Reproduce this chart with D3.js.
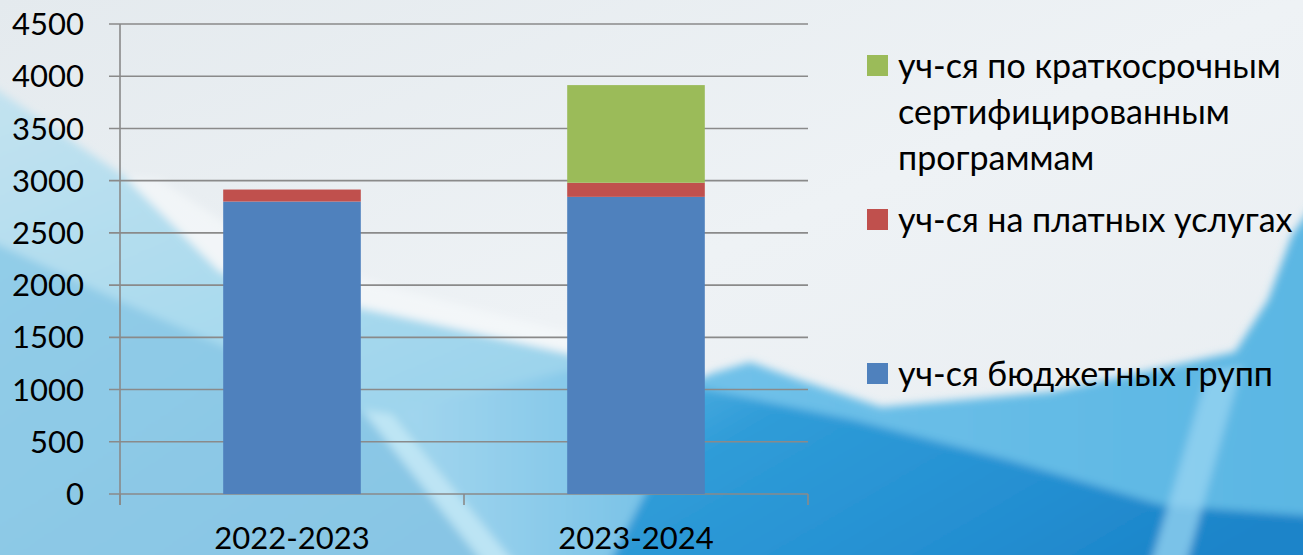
<!DOCTYPE html>
<html>
<head>
<meta charset="utf-8">
<script src="https://cdn.jsdelivr.net/npm/d3@7"></script>
<style>
  html, body { margin: 0; padding: 0; overflow: hidden; background: #e9eef2; }
  svg { display: block; }
  text { font-family: Lato, "Noto Sans", sans-serif; fill: #000; }
</style>
</head>
<body>
<svg id="chart" width="1303" height="555"></svg>
<script>
// school years on the x axis
const YEARS = ["2022-2023", "2023-2024"];
// stacked series, bottom to top
const BUDGET = [2800, 2845];   // уч-ся бюджетных групп
const PAID   = [115, 135];     // уч-ся на платных услугах
const SHORT  = [0, 935];       // уч-ся по краткосрочным сертифицированным программам
const Y_TICKS = [0, 500, 1000, 1500, 2000, 2500, 3000, 3500, 4000, 4500];

const SERIES = [
  { key: "budget", values: BUDGET, color: "#4f81bd", label: ["уч-ся бюджетных групп"] },
  { key: "paid",   values: PAID,   color: "#c0504d", label: ["уч-ся на платных услугах"] },
  { key: "short",  values: SHORT,  color: "#9bbb59", label: ["уч-ся по краткосрочным", "сертифицированным", "программам"] }
];

const W = 1303, H = 555;
const PLOT = { left: 120, right: 808, top: 24, bottom: 494 };
const svg = d3.select("#chart");

// ---- slide background (soft blue waves) ----
const defs = svg.append("defs");
defs.append("filter").attr("id", "soft").attr("x", "-10%").attr("y", "-10%")
    .attr("width", "120%").attr("height", "120%")
  .append("feGaussianBlur").attr("stdDeviation", 4);
function grad(id, x1, y1, x2, y2, stops){
  const g = defs.append("linearGradient").attr("id", id)
      .attr("x1", x1).attr("y1", y1).attr("x2", x2).attr("y2", y2);
  stops.forEach(s => g.append("stop").attr("offset", s[0]).attr("stop-color", s[1]));
}
grad("bgTop", 0, 0, 1, 1, [[0, "#e4eaee"], [0.5, "#eef2f5"], [1, "#e8edf1"]]);
grad("leftBlue", 0, 0, 0.7, 1, [[0, "#c4e3f0"], [0.45, "#a9daee"], [1, "#8ccbe9"]]);
grad("leftDeep", 0, 0, 1, 1, [[0, "#92cde8"], [1, "#86c4e4"]]);
grad("lowMid", 0, 0, 1, 0, [[0, "#a3d6ee"], [1, "#5cb5e2"]]);
grad("rightMid", 0, 0, 1, 0, [[0, "#74c3ea"], [1, "#5ab6e3"]]);
grad("rightDeep", 0, 0, 1, 0.5, [[0, "#5ab4e2"], [0.25, "#2f9cd8"], [0.65, "#2590d2"], [1, "#1b84c9"]]);

const bg = svg.append("g");
bg.append("rect").attr("width", W).attr("height", H).attr("fill", "url(#bgTop)");
const soft = bg.append("g").attr("filter", "url(#soft)");
// light blue wedge on the left, under a white diagonal edge
soft.append("path").attr("fill", "url(#leftBlue)")
    .attr("d", "M-20,78 L125,177 L220,272 L361,308 L570,354 L706,382 L830,400 L830,600 L-20,600 Z");
// bright white edge along that wedge
soft.append("path").attr("fill", "#f7fafc").attr("opacity", 0.6)
    .attr("d", "M125,177 L220,272 L361,308 L570,354 L706,382 L706,370 L560,330 L380,285 L250,240 L160,180 Z");
// deeper blue band lower-left
soft.append("path").attr("fill", "url(#leftDeep)")
    .attr("d", "M-20,236 L120,301 L225,347 L366,414 L523,600 L-20,600 Z");
// lower-middle blue, getting stronger to the right
soft.append("path").attr("fill", "url(#lowMid)")
    .attr("d", "M400,410 L570,370 L706,382 L830,400 L830,600 L540,600 Z");
// pale diagonal streak near the x axis
soft.append("path").attr("fill", "#c3e7f6").attr("opacity", 0.85)
    .attr("d", "M362,410 L392,414 L545,600 L512,600 Z");
// blue area below the legend
soft.append("path").attr("fill", "url(#rightMid)")
    .attr("d", "M690,380 L750,362 L800,380 L881,407 L1050,392 L1235,352 L1268,300 L1292,235 L1320,195 L1320,600 L600,600 Z");
// strong blue across the bottom-right
soft.append("path").attr("fill", "url(#rightDeep)")
    .attr("d", "M700,388 L854,420 L1008,460 L1161,505 L1320,517 L1320,600 L590,600 Z");
// pale streak in the right panel
soft.append("path").attr("fill", "#9ad6f1").attr("opacity", 0.75)
    .attr("d", "M1208,372 L1242,366 L1176,600 L1140,600 Z");

// ---- scales ----
const x = d3.scaleBand().domain(YEARS).range([PLOT.left, PLOT.right])
    .paddingInner(0.6).paddingOuter(0.3);
const y = d3.scaleLinear().domain([0, 4500]).range([PLOT.bottom, PLOT.top]);

const rows = YEARS.map((yr, i) => {
  const r = { year: yr };
  SERIES.forEach(s => r[s.key] = s.values[i]);
  return r;
});
const stacked = d3.stack().keys(SERIES.map(s => s.key))(rows);

const plot = svg.append("g");

// gridlines, with the small tick stub left of the axis
plot.selectAll(".grid").data(Y_TICKS).join("line").attr("class", "grid")
    .attr("x1", PLOT.left - 11).attr("x2", PLOT.right)
    .attr("y1", d => y(d)).attr("y2", d => y(d))
    .attr("stroke", "#8a8a8a").attr("stroke-width", 1.6);

// y axis line
plot.append("line").attr("x1", PLOT.left).attr("x2", PLOT.left)
    .attr("y1", PLOT.top).attr("y2", PLOT.bottom + 11)
    .attr("stroke", "#8a8a8a").attr("stroke-width", 1.6);

// x axis category boundary ticks
const bounds = [PLOT.left, ...YEARS.map(d => x(d) - x.step() * 0.3 + x.step())];
plot.selectAll(".xtick").data(bounds).join("line").attr("class", "xtick")
    .attr("x1", d => d).attr("x2", d => d)
    .attr("y1", PLOT.bottom).attr("y2", PLOT.bottom + 11)
    .attr("stroke", "#8a8a8a").attr("stroke-width", 1.6);

// stacked bars
plot.selectAll(".layer").data(stacked).join("g").attr("class", "layer")
    .attr("fill", d => SERIES.find(s => s.key === d.key).color)
  .selectAll("rect").data(d => d).join("rect")
    .attr("x", d => x(d.data.year)).attr("width", x.bandwidth())
    .attr("y", d => y(d[1])).attr("height", d => y(d[0]) - y(d[1]));

// y tick labels
plot.selectAll(".ylab").data(Y_TICKS).join("text").attr("class", "ylab")
    .attr("x", 84).attr("y", d => y(d)).attr("dy", "0.36em")
    .attr("text-anchor", "end").attr("font-size", 31).text(d => d);

// x category labels
plot.selectAll(".xlab").data(YEARS).join("text").attr("class", "xlab")
    .attr("x", d => x(d) + x.bandwidth() / 2).attr("y", 549)
    .attr("text-anchor", "middle").attr("font-size", 31).text(d => d);

// legend (top entry = top of the stack)
const LEG_Y = { short: 65.5, paid: 219.5, budget: 373.5 };
const legend = svg.append("g");
SERIES.forEach(s => {
  const cy = LEG_Y[s.key];
  legend.append("rect").attr("x", 867).attr("y", cy - 10.5).attr("width", 21).attr("height", 21)
      .attr("fill", s.color);
  s.label.forEach((line, j) => {
    legend.append("text").attr("x", 898).attr("y", cy + j * 46).attr("dy", "0.36em")
        .attr("font-size", 34).text(line);
  });
});
</script>
</body>
</html>
